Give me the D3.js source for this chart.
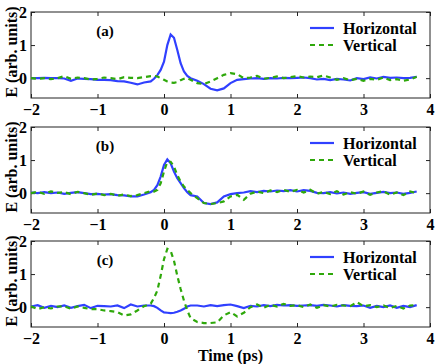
<!DOCTYPE html>
<html lang="en">
    <head>
        <meta charset="utf-8">
        <title>Pulse panels</title>
        <script src="https://d3js.org/d3.v7.min.js"></script>
        <style type="text/css">
            body { margin: 0; background: #fff; }

            .axis path,
            .axis line {
                stroke: #222;
            }

            .axis text {
                font-family: "Liberation Serif", serif;
                font-weight: bold;
                font-size: 16px;
                fill: #000;
            }

            .lbl {
                font-family: "Liberation Serif", serif;
                font-weight: bold;
                fill: #000;
            }

            .lineH {
                fill: none;
                stroke: #3040ff;
                stroke-width: 2.2px;
            }

            .lineV {
                fill: none;
                stroke: #2ea80a;
                stroke-width: 2.2px;
                stroke-dasharray: 5,4;
            }
        </style>
    </head>
    <body>
        <script type="text/javascript">

            //time samples (ps), shared by all six traces
            const time = [-2.0,-1.9,-1.8,-1.7,-1.6,-1.5,-1.4,-1.3,-1.2,-1.1,-1.0,-0.9,-0.8,-0.7,-0.6,-0.5,-0.4,-0.3,
                          -0.2,-0.15,-0.1,-0.05,0,0.05,0.1,0.15,0.2,0.25,0.3,0.35,0.4,
                          0.5,0.6,0.7,0.8,0.9,1.0,1.1,1.2,1.3,1.4,1.5,1.6,1.7,1.8,1.9,2.0,2.1,2.2,2.3,2.4,2.5,
                          2.6,2.7,2.8,2.9,3.0,3.1,3.2,3.3,3.4,3.5,3.6,3.7,3.8];

            //panel (a)
            const horizA = [0.0,0.0,0.01,0.0,0.0,-0.01,-0.08,-0.01,-0.02,-0.03,-0.05,-0.05,-0.06,-0.09,-0.1,-0.14,-0.19,-0.13,
                            -0.1,-0.02,0.09,0.25,0.5,1.0,1.32,1.22,0.85,0.45,0.2,0.07,0.0,
                            -0.08,-0.18,-0.32,-0.37,-0.31,-0.15,-0.05,-0.03,-0.01,0.0,-0.02,0.0,-0.01,0.01,0.0,0.01,0.02,0.0,-0.04,-0.02,-0.06,
                            -0.02,-0.04,-0.07,0.0,-0.03,0.02,-0.01,0.04,0.01,0.02,0.0,0.01,0.04];
            const vertA = [0.0,-0.02,0.0,-0.03,0.0,0.06,-0.02,0.02,0.0,-0.04,-0.02,0.02,0.0,-0.03,0.03,0.01,0.0,0.03,
                           0.06,0.07,0.05,0.0,-0.05,-0.1,-0.13,-0.14,-0.12,-0.06,-0.02,0.0,-0.05,
                           -0.15,-0.18,-0.1,0.0,0.1,0.15,0.12,0.0,0.02,0.07,-0.02,0.01,0.05,0.0,0.03,0.06,0.02,0.05,0.03,0.08,0.02,
                           -0.05,0.0,-0.06,-0.02,-0.08,-0.02,-0.05,0.02,-0.06,-0.03,-0.08,-0.04,0.04];

            //panel (b)
            const horizB = [0.02,0.0,0.03,0.0,0.02,-0.02,0.01,0.03,0.0,-0.03,-0.02,-0.04,-0.03,-0.06,-0.07,-0.1,-0.1,-0.04,
                            0.03,0.1,0.24,0.5,0.85,1.02,0.9,0.65,0.45,0.3,0.15,0.03,-0.06,
                            -0.1,-0.3,-0.33,-0.28,-0.1,-0.03,0.0,0.02,0.06,0.03,0.07,0.05,0.08,0.06,0.09,0.05,0.09,0.07,0.01,0.0,0.03,
                            -0.01,0.02,-0.02,0.01,0.03,-0.02,0.01,0.04,0.0,0.02,-0.02,0.01,0.05];
            const vertB = [0.0,0.04,-0.02,0.05,0.01,0.03,-0.03,0.04,0.0,-0.05,-0.01,-0.06,-0.02,-0.08,-0.04,-0.09,-0.06,0.0,
                           0.06,0.05,0.1,0.3,0.65,0.95,0.95,0.8,0.55,0.35,0.2,0.1,0.0,
                           -0.15,-0.3,-0.33,-0.3,-0.25,-0.1,-0.05,-0.2,-0.02,0.05,0.0,0.08,0.03,0.1,0.04,0.1,0.02,0.1,-0.02,0.04,-0.03,
                           0.06,-0.04,0.03,-0.02,0.05,-0.05,0.02,0.06,-0.05,0.02,-0.06,0.05,0.0];

            //panel (c)
            const horizC = [0.02,0.06,-0.02,0.04,0.0,0.05,-0.02,0.03,0.07,-0.03,0.04,0.03,0.02,0.05,-0.03,0.08,0.02,0.05,
                            0.05,0.03,-0.02,-0.1,-0.16,-0.17,-0.18,-0.17,-0.14,-0.1,-0.05,0.02,0.05,
                            0.05,0.02,0.06,0.03,0.06,0.08,0.03,-0.03,0.04,0.02,0.06,0.03,0.07,0.05,0.06,0.04,0.05,0.06,0.04,0.07,0.05,
                            0.02,0.06,0.04,0.03,0.05,-0.02,0.04,0.0,0.05,-0.02,0.04,0.0,0.06];
            const vertC = [0.03,-0.06,0.0,-0.04,0.02,0.03,-0.05,0.02,-0.02,-0.06,-0.06,-0.1,-0.12,-0.15,-0.25,-0.22,-0.1,0.03,
                           0.1,0.28,0.5,0.95,1.45,1.76,1.7,1.4,0.95,0.55,0.2,-0.1,-0.33,
                           -0.45,-0.48,-0.48,-0.46,-0.25,-0.15,-0.28,-0.17,0.0,0.08,-0.02,0.07,0.02,0.1,0.04,0.06,0.0,0.08,-0.02,0.06,0.02,
                           0.07,0.05,0.03,0.15,0.03,0.06,0.0,0.05,-0.03,0.04,-0.04,0.05,0.06];

            const panelLabels = ["(a)", "(b)", "(c)"];
            const legendNames = ["Horizontal", "Vertical"];
            const xTicks = [-2, -1, 0, 1, 2, 3, 4];
            const yTicks = [0, 1, 2];

            const panels = [
                {label: panelLabels[0], h: horizA, v: vertA},
                {label: panelLabels[1], h: horizB, v: vertB},
                {label: panelLabels[2], h: horizC, v: vertC}
            ];

            const w = 436;
            const h = 364;
            const left = 31;
            const right = 430;
            const panelH = 86;
            const tops = [12, 127, 241];

            const svg = d3.select("body")
                    .append("svg")
                    .attr("width", w)
                    .attr("height", h);

            const xScale = d3.scaleLinear()
                             .domain([-2, 4])
                             .range([left, right]);

            panels.forEach((p, i) => {
                const top = tops[i];
                const yScale = d3.scaleLinear()
                                 .domain([-0.6, 2])
                                 .range([top + panelH, top]);

                //frame
                svg.append("rect")
                   .attr("x", left)
                   .attr("y", top)
                   .attr("width", right - left)
                   .attr("height", panelH)
                   .attr("fill", "none")
                   .attr("stroke", "#222");

                //axes, ticks pointing inward on all four sides
                svg.append("g")
                   .attr("class", "axis")
                   .attr("transform", "translate(0," + (top + panelH) + ")")
                   .call(d3.axisBottom(xScale).tickValues(xTicks).tickSizeInner(-4).tickSizeOuter(0).tickPadding(6).tickFormat(d3.format("d")))
                   .call(g => g.select(".domain").remove());

                svg.append("g")
                   .attr("class", "axis")
                   .attr("transform", "translate(0," + top + ")")
                   .call(d3.axisTop(xScale).tickValues(xTicks).tickSizeInner(-4).tickSizeOuter(0).tickFormat(""))
                   .call(g => g.select(".domain").remove());

                svg.append("g")
                   .attr("class", "axis")
                   .attr("transform", "translate(" + left + ",0)")
                   .call(d3.axisLeft(yScale).tickValues(yTicks).tickSizeInner(-4).tickSizeOuter(0).tickPadding(4).tickFormat(d3.format("d")))
                   .call(g => g.select(".domain").remove());

                svg.append("g")
                   .attr("class", "axis")
                   .attr("transform", "translate(" + right + ",0)")
                   .call(d3.axisRight(yScale).tickValues(yTicks).tickSizeInner(-4).tickSizeOuter(0).tickFormat(""))
                   .call(g => g.select(".domain").remove());

                //lines
                const lineH = d3.line()
                                .x((d, j) => xScale(time[j]))
                                .y(d => yScale(d));

                svg.append("path")
                   .datum(p.h)
                   .attr("class", "lineH")
                   .attr("d", lineH);

                svg.append("path")
                   .datum(p.v)
                   .attr("class", "lineV")
                   .attr("d", lineH);

                //panel label
                svg.append("text")
                   .attr("class", "lbl")
                   .attr("x", left + 74)
                   .attr("y", top + 24)
                   .attr("text-anchor", "middle")
                   .style("font-size", "15px")
                   .text(p.label);

                //legend
                const leg = svg.append("g").attr("transform", "translate(310," + (top + 16) + ")");
                leg.append("line")
                   .attr("class", "lineH")
                   .attr("x1", 0).attr("x2", 24).attr("y1", 0).attr("y2", 0);
                leg.append("line")
                   .attr("class", "lineV")
                   .attr("x1", 0).attr("x2", 24).attr("y1", 17).attr("y2", 17);
                leg.append("text")
                   .attr("class", "lbl")
                   .attr("x", 33).attr("y", 5.5)
                   .style("font-size", "16px")
                   .text(legendNames[0]);
                leg.append("text")
                   .attr("class", "lbl")
                   .attr("x", 33).attr("y", 22.5)
                   .style("font-size", "16px")
                   .text(legendNames[1]);

                //y label
                svg.append("text")
                   .attr("class", "lbl")
                   .attr("transform", "translate(17," + (top + panelH / 2 - 3) + ") rotate(-90)")
                   .attr("text-anchor", "middle")
                   .style("font-size", "16px")
                   .text("E (arb. units)");
            });

            //x label
            svg.append("text")
               .attr("class", "lbl")
               .attr("x", (left + right) / 2)
               .attr("y", 361)
               .attr("text-anchor", "middle")
               .style("font-size", "16px")
               .text("Time (ps)");

        </script>
    </body>
</html>
